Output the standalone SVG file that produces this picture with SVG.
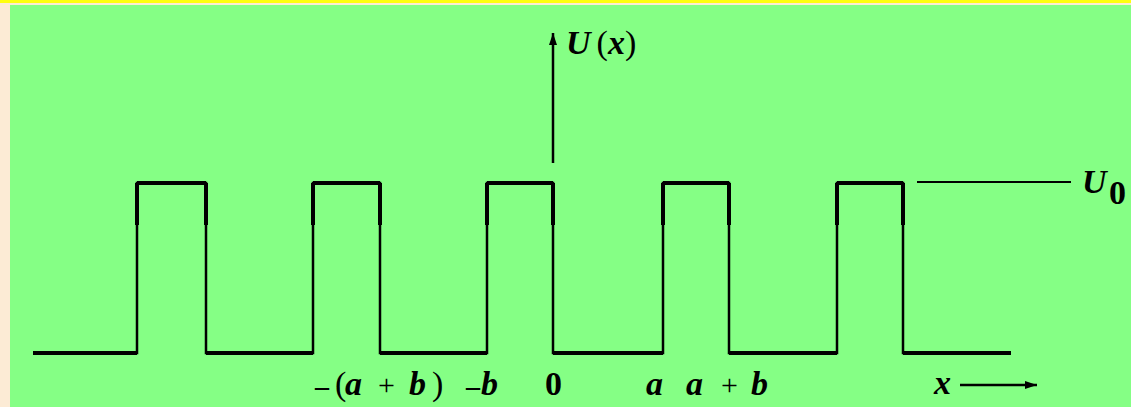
<svg xmlns="http://www.w3.org/2000/svg" width="1131" height="407" viewBox="0 0 1131 407">
<style>
.t{font-family:"Liberation Serif","DejaVu Serif",serif;font-size:34px;font-weight:bold;fill:#000}
.i{font-style:italic}
.p{font-weight:normal}
.ln{stroke:#000;fill:none}
</style>
<defs>
<marker id="ah" viewBox="0 0 12 8" refX="12" refY="4" markerWidth="12" markerHeight="8" markerUnits="userSpaceOnUse" orient="auto">
<path d="M0,0 L12,4 L0,8 Z" fill="#000"/>
</marker>
</defs>
<rect x="0" y="0" width="1131" height="407" fill="#FCEBD5"/>
<rect x="0" y="0" width="1131" height="3" fill="#FFFF10"/>
<rect x="10" y="5" width="1121" height="402" fill="#85FF85"/>
<g id="waveform">
<polyline class="ln" stroke-width="2.5" stroke-linejoin="miter" points="33,353 137,353 137,183 206,183 206,353 313,353 313,183 380,183 380,353 487,353 487,183 553,183 553,353 663,353 663,183 729,183 729,353 837,353 837,183 903,183 903,353 1011,353"/>
<path class="ln" stroke-width="4" d="M33,353H137M206,353H313M380,353H487M553,353H663M729,353H837M903,353H1011M137,183H206M313,183H380M487,183H553M663,183H729M837,183H903M137,183V225M206,183V225M313,183V225M380,183V225M487,183V225M553,183V225M663,183V225M729,183V225M837,183V225M903,183V225"/>
</g>
<g id="connectors">
<line id="y-axis" class="ln" stroke-width="2.5" x1="553" y1="163" x2="553" y2="33" marker-end="url(#ah)"/>
<line id="x-arrow" class="ln" stroke-width="2.5" x1="960" y1="385" x2="1037" y2="385" marker-end="url(#ah)"/>
<line id="u0-line" class="ln" stroke-width="2" x1="917" y1="182" x2="1071" y2="182"/>
</g>
<g id="label-Ux">
<text class="t" x="566" y="54"><tspan class="i">U</tspan><tspan class="p" dx="6">(</tspan><tspan class="i">x</tspan><tspan class="p">)</tspan></text>
</g>
<g id="label-U0">
<text class="t i" x="1082" y="193">U</text>
<text class="t" x="1109" y="204" font-size="20">0</text>
</g>
<g id="label-x">
<text class="t i" x="934" y="394">x</text>
</g>
<g id="ticks">
<text class="t" y="395"><tspan x="315" font-size="28">–</tspan><tspan class="p" x="335">(</tspan><tspan class="i" x="345">a</tspan><tspan class="p" x="378" font-size="30">+</tspan><tspan class="i" x="409">b</tspan><tspan class="p" x="432">)</tspan></text>
<text class="t" y="395"><tspan x="466" font-size="28">–</tspan><tspan class="i" x="481">b</tspan></text>
<text class="t" x="545" y="395">0</text>
<text class="t i" x="646" y="395">a</text>
<text class="t" y="395"><tspan class="i" x="686">a</tspan><tspan class="p" x="721" font-size="30">+</tspan><tspan class="i" x="751">b</tspan></text>
</g>
</svg>
